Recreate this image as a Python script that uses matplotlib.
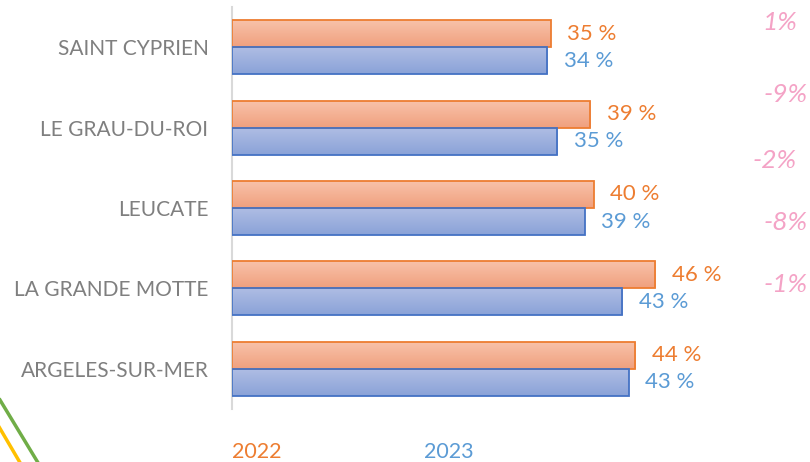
import matplotlib
matplotlib.use("Agg")
import matplotlib.pyplot as plt
import numpy as np
from matplotlib.colors import LinearSegmentedColormap
from matplotlib.lines import Line2D

categories = ["SAINT CYPRIEN", "LE GRAU-DU-ROI", "LEUCATE", "LA GRANDE MOTTE", "ARGELES-SUR-MER"]
values_2022 = [34.8, 39.1, 39.5, 46.2, 44.0]
values_2023 = [34.4, 35.5, 38.5, 42.6, 43.3]
labels_2022 = ["35 %", "39 %", "40 %", "46 %", "44 %"]
labels_2023 = ["34 %", "35 %", "39 %", "43 %", "43 %"]
variations = ["1%", "-9%", "-2%", "-8%", "-1%"]
series_names = ["2022", "2023"]

W, H = 810, 462
fig = plt.figure(figsize=(W / 100, H / 100), dpi=100)
plt.rcParams['font.family'] = ['Lato', 'DejaVu Sans']

k = 9.16  # px per unit
ax_left, ax_top, ax_bottom = 232, 7, 409
xmax = 60
ax = fig.add_axes([ax_left / W, 1 - ax_bottom / H, (xmax * k) / W, (ax_bottom - ax_top) / H])
ax.set_xlim(0, xmax)
ax.set_ylim(len(categories) - 0.5, -0.5)

y = np.arange(len(categories))
h = 0.336

orange_cmap = LinearSegmentedColormap.from_list("o", ["#f8c3ab", "#f0a07e"])
blue_cmap = LinearSegmentedColormap.from_list("b", ["#b0bee4", "#8aa2d8"])
grad = np.linspace(0, 1, 64).reshape(-1, 1)

def draw_bars(vals, offset, cmap, edge):
    bars = ax.barh(y + offset, vals, height=h, facecolor="none", edgecolor=edge, linewidth=1.3, zorder=3)
    for b in bars:
        x0, y0 = b.get_x(), b.get_y()
        im = ax.imshow(grad, cmap=cmap, aspect="auto",
                       extent=(x0, x0 + b.get_width(), y0 + b.get_height(), y0),
                       zorder=2, interpolation="bilinear")
        im.set_clip_path(b)
    return bars

draw_bars(values_2022, -h / 2, orange_cmap, "#ed7d31")
draw_bars(values_2023, h / 2, blue_cmap, "#4472c4")

ax.set_xlim(0, xmax)
ax.set_ylim(len(categories) - 0.5, -0.5)

for i in range(len(categories)):
    ax.annotate(labels_2022[i], (values_2022[i], y[i] - h / 2), xytext=(12, 0),
                textcoords="offset points", va="center", ha="left", color="#ed7d31", fontsize=16)
    ax.annotate(labels_2023[i], (values_2023[i], y[i] + h / 2), xytext=(12, 0),
                textcoords="offset points", va="center", ha="left", color="#5b9bd5", fontsize=16)

ax.set_yticks(y)
ax.set_yticklabels(categories, fontsize=15, color="#7f7f7f")
ax.tick_params(axis="y", length=0, pad=17)
ax.set_xticks([])
for s in ["top", "right", "bottom"]:
    ax.spines[s].set_visible(False)
ax.spines["left"].set_color("#d9d9d9")
ax.spines["left"].set_linewidth(1.5)
ax.patch.set_alpha(0)

# variation annotations (pink, italic)
var_pos = [(797, 22), (808, 95), (797, 160), (808, 222), (808, 285)]
for txt, (px, py) in zip(variations, var_pos):
    fig.text(px / W, 1 - py / H, txt, ha="right", va="center", fontsize=19,
             style="italic", color="#f4a3c6")

# legend texts
fig.text(232 / W, 1 - 452 / H, series_names[0], ha="left", va="center", fontsize=15.5, color="#ed7d31")
fig.text(424 / W, 1 - 452 / H, series_names[1], ha="left", va="center", fontsize=15.5, color="#5b9bd5")

# decorative diagonal lines
fig.add_artist(Line2D([0 / W, 40 / W], [1 - 400 / H, 1 - 466 / H], transform=fig.transFigure,
                      color="#70ad47", linewidth=2.5))
fig.add_artist(Line2D([-5 / W, 22 / W], [1 - 420 / H, 1 - 466 / H], transform=fig.transFigure,
                      color="#ffc000", linewidth=2.5))

fig.savefig("out.png", dpi=100)
